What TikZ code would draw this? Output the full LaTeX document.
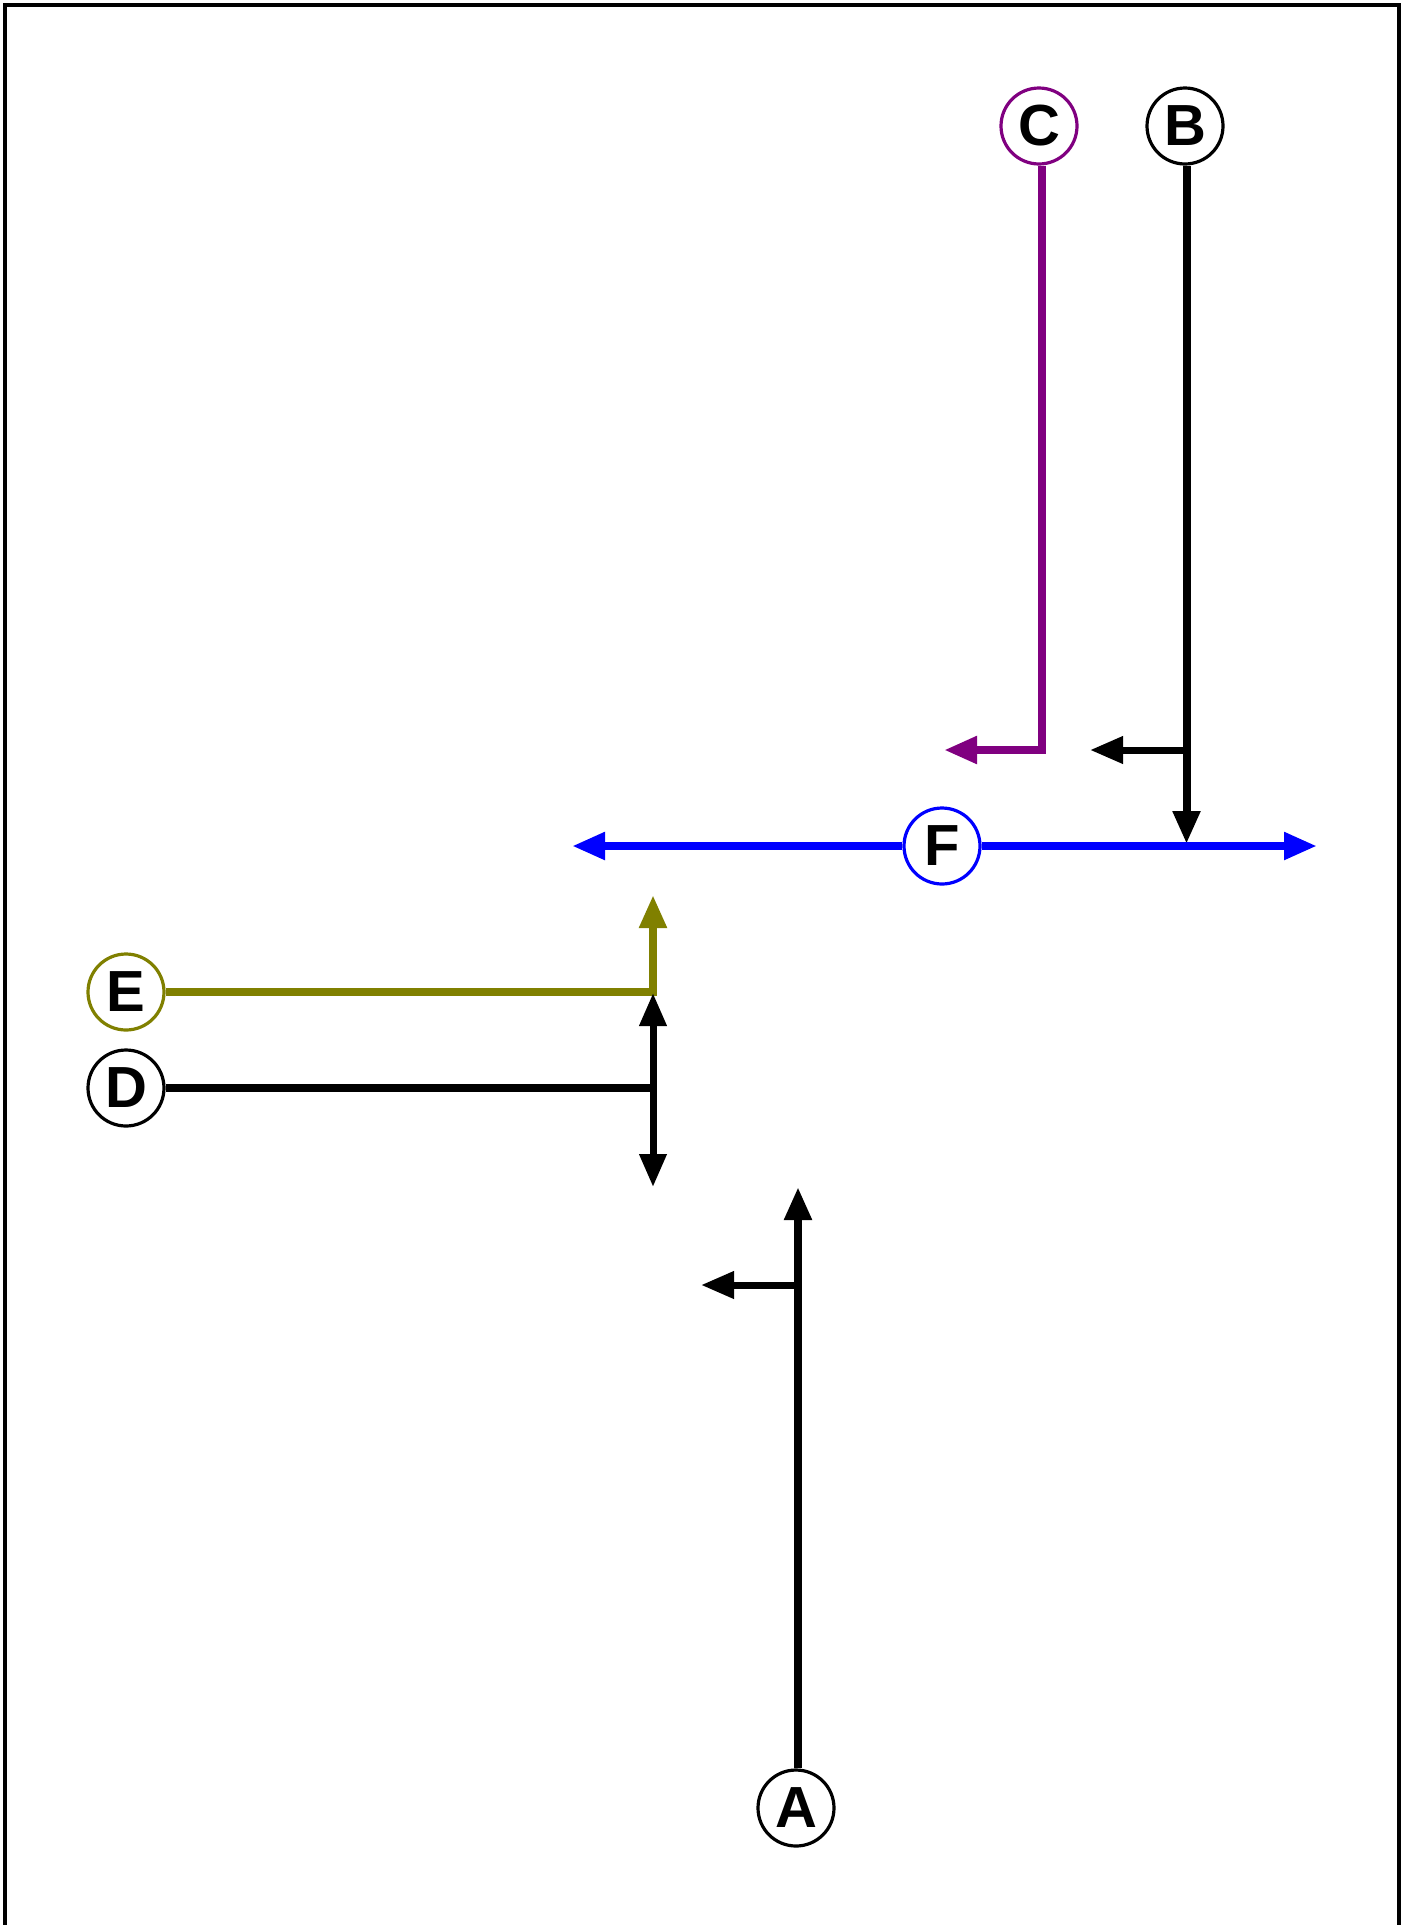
\documentclass[tikz,border=0pt]{standalone}
\usepackage{fontspec}
\setmainfont{Liberation Sans}
\usetikzlibrary{arrows.meta}
\definecolor{cpurple}{HTML}{800080}
\definecolor{colive}{HTML}{808000}
\definecolor{cblue}{HTML}{0000FF}
\tikzset{
  station/.style={circle,draw,line width=3.2pt,minimum size=76pt,inner sep=0pt,fill=white,
    font=\fontsize{58}{60}\selectfont\bfseries},
  wire/.style={line width=8pt},
  branch/.style={line width=7pt},
  arr/.style={-{Triangle[length=33pt,width=26pt]}}
}
\begin{document}
\begin{tikzpicture}[x=1pt,y=-1pt]
\clip (0,0) rectangle (1408,1925);
\fill[white] (0,0) rectangle (1408,1925);
\draw[line width=4pt] (5,1940) -- (5,5) -- (1399,5) -- (1399,1940);

% nodes
\node[station,draw=cpurple] (C) at (1039,126) {C};
\node[station] (B) at (1185,126) {B};
\node[station,draw=cblue] (F) at (942,846) {F};
\node[station,draw=colive] (E) at (126,992) {E};
\node[station] (D) at (126,1088) {D};
\node[station] (A) at (796,1808) {A};

% coordinates
\coordinate (cT) at (1041.5,750);
\coordinate (cL) at (944,750);
\coordinate (bT) at (1186.5,750);
\coordinate (bL) at (1090,750);
\coordinate (bD) at (1186.5,844);
\coordinate (fL) at (572,846);
\coordinate (fR) at (1317,846);
\coordinate (eT) at (653,992);
\coordinate (eU) at (653,895);
\coordinate (dT) at (653,1088);
\coordinate (dU) at (653,993);
\coordinate (dD) at (653,1187);
\coordinate (aU) at (798,1187);
\coordinate (aB) at (798,1285);
\coordinate (aL) at (701,1285);

% connectors
\draw[wire,cpurple,arr] (cT |- C.south) -- (cT) -- (cL);
\draw[wire,arr] (bT |- B.south) -- (bT) -- (bD);
\draw[branch,arr] (bT) -- (bL);
\draw[wire,cblue,arr] (F.west) -- (fL);
\draw[wire,cblue,arr] (F.east) -- (fR);
\draw[wire,colive,arr] (E.east) -- (eT) -- (eU);
\draw[wire] (D.east) -- (dT);
\draw[branch,arr] (dT) -- (dU);
\draw[branch,arr] (dT) -- (dD);
\draw[wire,arr] (aU |- A.north) -- (aU);
\draw[branch,arr] (aB) -- (aL);
\end{tikzpicture}
\end{document}
